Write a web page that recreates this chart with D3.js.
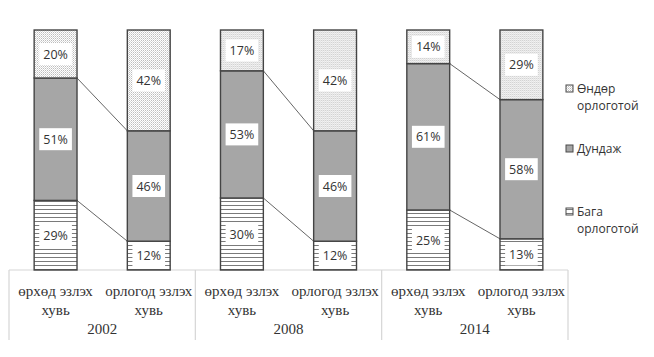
<!DOCTYPE html>
<html><head><meta charset="utf-8">
<script src="https://cdn.jsdelivr.net/npm/d3@7"></script>
<style>body{margin:0;background:#fff}svg{display:block}</style>
</head><body><svg id="c" width="654" height="357"></svg>
<script>
const years = ["2002", "2008", "2014"];
const barKeys = ["hh", "inc"];
const barLabels = [["өрхөд эзлэх", "хувь"], ["орлогод эзлэх", "хувь"]];
const seriesNames = ["Бага орлоготой", "Дундаж", "Өндөр орлоготой"];
// values per year: [household share, income share], each [low, mid, high]
const low2002 = [29, 12], mid2002 = [51, 46], high2002 = [20, 42];
const low2008 = [30, 12], mid2008 = [53, 46], high2008 = [17, 42];
const low2014 = [25, 13], mid2014 = [61, 58], high2014 = [14, 29];
const legendLines = [["Өндөр", "орлоготой"], ["Дундаж"], ["Бага", "орлоготой"]];

const data = {
  "2002": [low2002, mid2002, high2002],
  "2008": [low2008, mid2008, high2008],
  "2014": [low2014, mid2014, high2014]
};

const svg = d3.select("#c");
const defs = svg.append("defs");
const dots = defs.append("pattern").attr("id", "dots").attr("width", 2).attr("height", 2).attr("patternUnits", "userSpaceOnUse");
dots.append("rect").attr("width", 2).attr("height", 2).attr("fill", "#fff");
dots.append("rect").attr("width", 1).attr("height", 1).attr("fill", "#bdbdbd");
dots.append("rect").attr("x", 1).attr("y", 1).attr("width", 1).attr("height", 1).attr("fill", "#dadada");
const hl = defs.append("pattern").attr("id", "hlines").attr("width", 4).attr("height", 4).attr("patternUnits", "userSpaceOnUse");
hl.append("rect").attr("width", 4).attr("height", 4).attr("fill", "#fff");
hl.append("rect").attr("y", 1).attr("width", 4).attr("height", 1).attr("fill", "#7a7a7a");
const fills = ["url(#hlines)", "#a6a6a6", "url(#dots)"];

const x0 = d3.scaleBand().domain(years).range([9, 568]).padding(0);
const x1 = d3.scaleBand().domain(barKeys).range([0, x0.bandwidth()]).paddingInner(0.54).paddingOuter(0.27);
const y = d3.scaleLinear().domain([0, 100]).range([270, 30]);

// axis box
const axisG = svg.append("g").attr("stroke", "#d6d6d6").attr("stroke-width", 1.2);
axisG.append("line").attr("x1", x0.range()[0]).attr("x2", x0.range()[1]).attr("y1", y(0)).attr("y2", y(0));
const edges = years.map(d => x0(d)).concat([x0.range()[1]]);
axisG.selectAll("line.v").data(edges).enter().append("line").attr("class", "v")
  .attr("x1", d => d).attr("x2", d => d).attr("y1", y(0)).attr("y2", 340);

years.forEach(yr => {
  const g = svg.append("g").attr("transform", `translate(${x0(yr)},0)`);
  const vals = data[yr];
  const cum = barKeys.map((k, bi) => {
    let c = 0; return vals.map(s => { const a = c; c += s[bi]; return [a, c]; });
  });
  const xr = x1("hh") + x1.bandwidth(), xl = x1("inc");
  g.append("line").attr("x1", xr).attr("x2", xl).attr("y1", y(cum[0][1][1])).attr("y2", y(cum[1][1][1]))
    .attr("stroke", "#666").attr("stroke-width", 1);
  g.append("line").attr("x1", xr).attr("x2", xl).attr("y1", y(cum[0][0][1])).attr("y2", y(cum[1][0][1]))
    .attr("stroke", "#666").attr("stroke-width", 1);

  barKeys.forEach((k, bi) => {
    cum[bi].forEach((seg, si) => {
      g.append("rect").attr("x", x1(k)).attr("width", x1.bandwidth())
        .attr("y", y(seg[1])).attr("height", y(seg[0]) - y(seg[1]))
        .attr("fill", fills[si]).attr("stroke", "#444").attr("stroke-width", 1.4);
    });
    cum[bi].forEach((seg, si) => {
      const cx = x1(k) + x1.bandwidth() / 2, cy = (y(seg[0]) + y(seg[1])) / 2;
      const t = vals[si][bi] + "%";
      const lg = g.append("g");
      const txt = lg.append("text").attr("x", cx).attr("y", cy).attr("dy", "0.36em")
        .attr("text-anchor", "middle").attr("font-family", "'Open Sans', sans-serif")
        .attr("font-size", 12.5).attr("fill", "#333").text(t);
      const w = txt.node().getComputedTextLength() + 8;
      lg.insert("rect", "text").attr("x", cx - w / 2).attr("y", cy - 11).attr("width", w).attr("height", 22).attr("fill", "#fff");
    });
    // category label
    const lt = g.append("text").attr("text-anchor", "middle").attr("font-family", "'Liberation Serif', serif")
      .attr("font-size", 15).attr("fill", "#333");
    barLabels[bi].forEach((line, li) => {
      lt.append("tspan").attr("x", x1(k) + x1.bandwidth() / 2).attr("y", 296 + li * 19).text(line);
    });
  });
  g.append("text").attr("x", x0.bandwidth() / 2).attr("y", 334).attr("text-anchor", "middle")
    .attr("font-family", "'Liberation Serif', serif").attr("font-size", 15).attr("fill", "#333").text(yr);
});

// legend
const legY = [89, 149, 212];
const legFill = [fills[2], fills[1], fills[0]];
legendLines.forEach((lines, i) => {
  svg.append("rect").attr("x", 566).attr("y", legY[i] - 4).attr("width", 7).attr("height", 7)
    .attr("fill", legFill[i]).attr("stroke", "#4a4a4a").attr("stroke-width", 1);
  const t = svg.append("text").attr("font-family", "'Open Sans', sans-serif").attr("font-size", 12).attr("fill", "#333");
  lines.forEach((l, li) => t.append("tspan").attr("x", 577).attr("y", legY[i] + 4 + li * 17).text(l));
});
</script></body></html>
